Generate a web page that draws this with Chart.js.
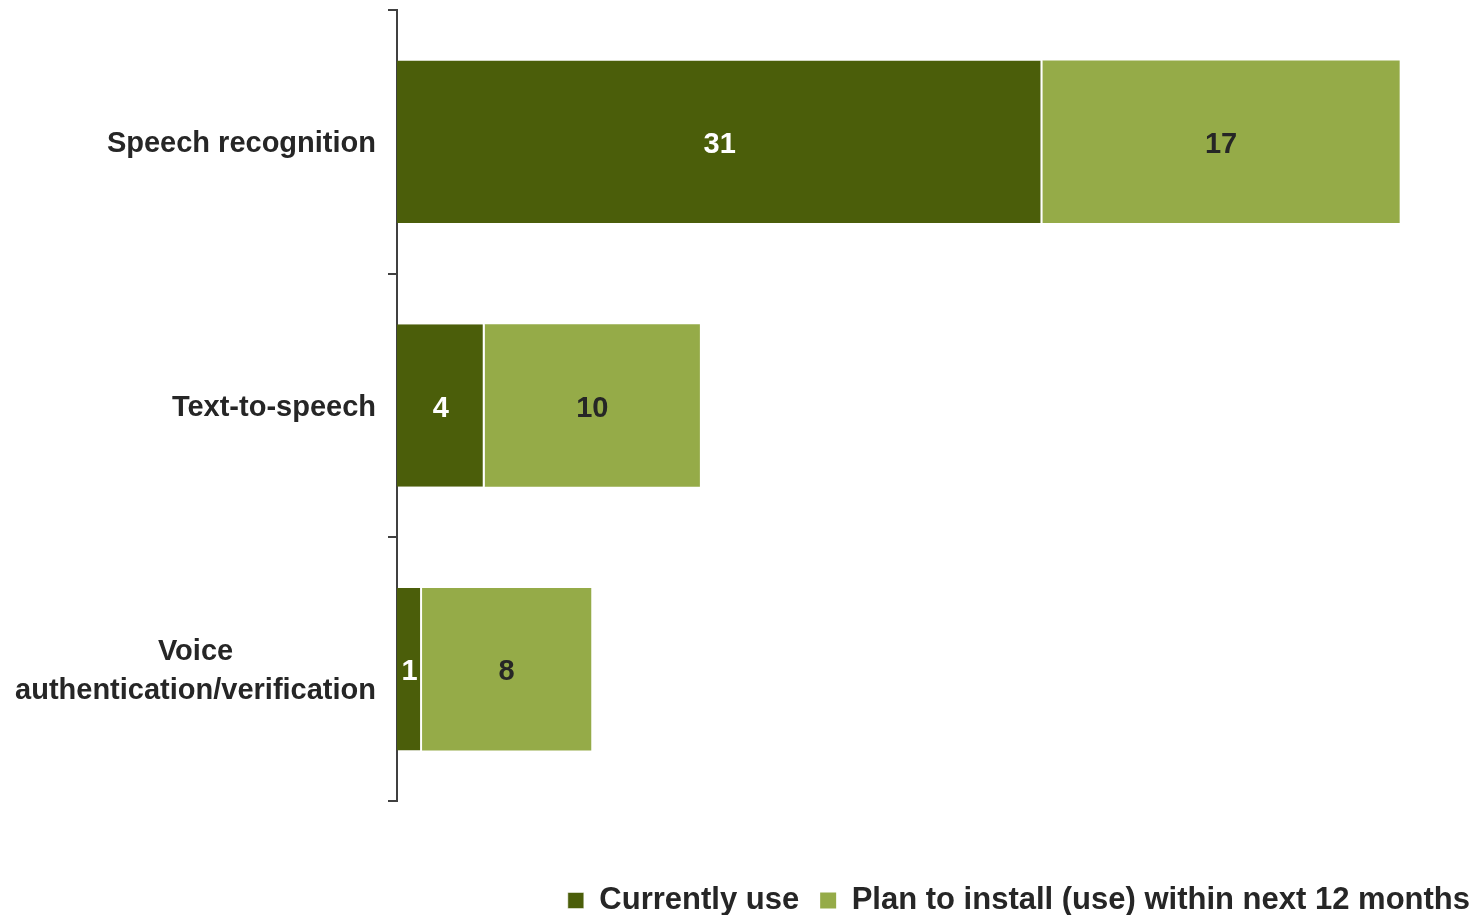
<!DOCTYPE html>
<html>
<head>
<meta charset="utf-8">
<script src="https://cdn.jsdelivr.net/npm/chart.js@4.4.1/dist/chart.umd.min.js"></script>
<style>
    html, body { margin: 0; padding: 0; background: #fff; }
    #wrap { width: 1478px; height: 915px; }
</style>
</head>
<body>
<div id="wrap"><canvas id="speechChart"></canvas></div>
<script>
// ==========================================
// DATA
// ==========================================
const categories = [
    ['Speech recognition'],
    ['Text-to-speech'],
    ['Voice', 'authentication/verification']
];
const seriesNames = ['Currently use', 'Plan to install (use) within next 12 months'];
const currentlyUse = [30.9, 4.2, 1.2];
const planToInstall = [17.1, 10.3, 8.1];

const textColor = '#262626';
const labelFont = "bold 29px 'Liberation Sans', Arial, sans-serif";

Chart.defaults.font.family = "'Liberation Sans', Arial, sans-serif";
Chart.defaults.color = textColor;

// Category labels: block right-aligned to the axis, lines centered within the block
const categoryLabels = {
    id: 'categoryLabels',
    afterDraw(chart) {
        const { ctx } = chart;
        const yScale = chart.scales.y;
        const rightEdge = yScale.right - 21;
        const lineHeight = 39;
        ctx.save();
        ctx.font = labelFont;
        ctx.fillStyle = textColor;
        ctx.textAlign = 'center';
        ctx.textBaseline = 'middle';
        categories.forEach((lines, i) => {
            const center = yScale.getPixelForTick(i) + 2;
            const maxW = Math.max(...lines.map(l => ctx.measureText(l).width));
            const cx = rightEdge - maxW / 2;
            const startY = center - (lines.length - 1) * lineHeight / 2;
            lines.forEach((line, j) => ctx.fillText(line, cx, startY + j * lineHeight));
        });
        ctx.restore();
    }
};

// Value labels in the middle of each segment
const valueLabels = {
    id: 'valueLabels',
    afterDatasetsDraw(chart) {
        const { ctx } = chart;
        ctx.save();
        ctx.font = labelFont;
        ctx.textAlign = 'center';
        ctx.textBaseline = 'middle';
        chart.data.datasets.forEach((ds, di) => {
            const meta = chart.getDatasetMeta(di);
            ctx.fillStyle = di === 0 ? '#ffffff' : textColor;
            meta.data.forEach((bar, i) => {
                const { x, y, base } = bar.getProps(['x', 'y', 'base'], true);
                ctx.fillText(String(Math.round(ds.data[i])), (x + base) / 2, y + 3);
            });
        });
        ctx.restore();
    }
};

const ctx = document.getElementById('speechChart').getContext('2d');

new Chart(ctx, {
    type: 'bar',
    data: {
        labels: categories,
        datasets: [
            {
                label: seriesNames[0],
                data: currentlyUse,
                backgroundColor: '#4B5E0A',
                borderColor: '#ffffff',
                borderWidth: { left: 0, top: 0, bottom: 0, right: 2 },
                borderSkipped: false
            },
            {
                label: seriesNames[1],
                data: planToInstall,
                backgroundColor: '#95AB48',
                borderWidth: 0
            }
        ]
    },
    options: {
        indexAxis: 'y',
        responsive: true,
        maintainAspectRatio: false,
        animation: false,
        datasets: {
            bar: { categoryPercentage: 1, barPercentage: 0.616 }
        },
        layout: {
            padding: { top: 10, right: -13, bottom: -11, left: 0 }
        },
        scales: {
            x: {
                stacked: true,
                min: 0,
                max: 51.75,
                grid: { display: false },
                border: { display: false },
                ticks: { display: false },
                afterFit: (scale) => { scale.height = 63; }
            },
            y: {
                stacked: true,
                grid: {
                    drawOnChartArea: false,
                    color: '#404040',
                    lineWidth: 2,
                    tickLength: 9
                },
                border: { display: true, color: '#404040', width: 2 },
                ticks: { display: false },
                afterFit: (scale) => { scale.width = 397; }
            }
        },
        plugins: {
            legend: {
                position: 'bottom',
                align: 'end',
                labels: {
                    boxWidth: 16,
                    boxHeight: 16,
                    padding: 21,
                    color: textColor,
                    font: { size: 31, weight: 'bold' }
                }
            },
            tooltip: { enabled: false }
        }
    },
    plugins: [categoryLabels, valueLabels]
});
</script>
</body>
</html>
